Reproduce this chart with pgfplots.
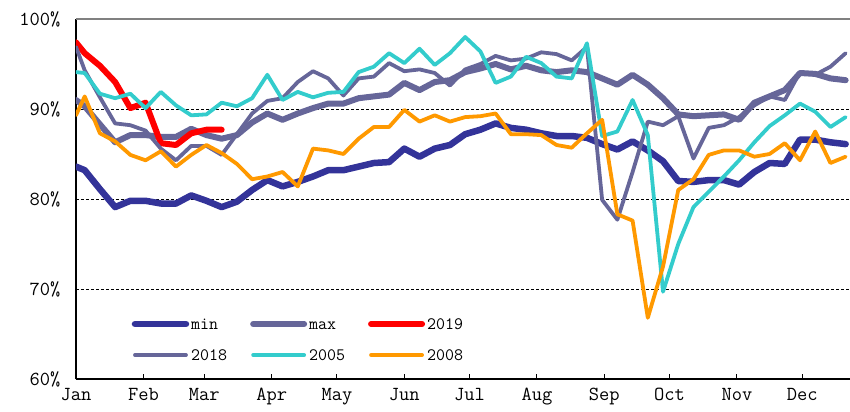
\documentclass[border=0pt]{standalone}
\usepackage{fontspec}
\usepackage{pgfplots}
\usepackage{pgfplotstable}
\pgfplotsset{compat=1.18}
\definecolor{cmin}{RGB}{51,51,153}
\definecolor{cmax}{RGB}{102,102,153}
\definecolor{cred}{RGB}{255,0,0}
\definecolor{ccyan}{RGB}{51,204,204}
\definecolor{corange}{RGB}{255,153,0}

\pgfplotstableread{
x vmin vmax y2018 y2005 y2008
0 83.6 91.0 96.9 94.1 89.3
4 83.2 90.3 94.3 94.0 91.4
11 81.1 88.3 91.3 91.7 87.3
18 79.1 86.3 88.4 91.2 86.4
25 79.8 87.1 88.2 91.7 84.9
32 79.8 87.1 87.6 90.1 84.3
39 79.5 86.9 85.6 91.9 85.3
46 79.5 86.9 84.3 90.4 83.6
53 80.4 87.8 85.9 89.3 84.9
60 79.8 87.1 85.9 89.4 86.0
67 79.1 86.7 84.9 90.7 85.1
74 79.7 87.1 87.2 90.3 83.9
81 81.0 88.5 89.5 91.2 82.2
88 82.1 89.5 90.9 93.8 82.5
95 81.4 88.8 91.2 91.0 83.0
102 81.9 89.5 93.0 91.9 81.4
109 82.5 90.1 94.2 91.3 85.6
116 83.2 90.6 93.4 91.8 85.4
123 83.2 90.6 91.5 91.9 85.0
130 83.6 91.2 93.4 94.1 86.7
137 84.0 91.4 93.6 94.7 88.0
144 84.1 91.6 95.1 96.2 88.0
151 85.6 92.9 94.2 95.1 89.9
158 84.7 92.1 94.4 96.7 88.6
165 85.6 93.0 94.0 94.9 89.3
172 86.0 93.2 92.6 96.2 88.6
179 87.2 94.1 94.4 98.0 89.1
186 87.7 94.5 95.0 96.4 89.2
193 88.4 95.0 95.9 92.9 89.5
200 87.9 94.4 95.4 93.6 87.2
207 87.7 94.8 95.6 95.8 87.2
214 87.3 94.3 96.3 95.1 87.1
221 87.0 94.1 96.1 93.6 86.0
228 87.0 94.3 95.4 93.4 85.7
235 86.8 94.1 96.9 97.3 87.3
242 86.1 93.4 79.9 87.0 88.8
249 85.5 92.7 77.7 87.5 78.3
256 86.4 93.8 83.0 91.0 77.6
263 85.4 92.7 88.6 87.1 66.8
270 84.2 91.2 88.2 69.7 72.5
277 82.0 89.4 89.2 75.0 81.0
284 81.9 89.2 84.5 79.1 82.2
291 82.1 89.3 87.9 80.8 84.9
298 82.1 89.4 88.2 82.5 85.4
305 81.6 88.8 89.1 84.3 85.4
312 83.0 90.7 90.4 86.3 84.7
319 84.0 91.4 91.4 88.1 85.0
326 83.9 92.1 91.0 89.3 86.2
333 86.6 94.0 94.1 90.6 84.3
340 86.6 93.9 93.8 89.7 87.5
347 86.3 93.4 94.7 88.0 84.0
354 86.1 93.2 96.2 89.1 84.7
}\datatab

\pgfplotstableread{
x y
0 97.4
4 96.2
11 94.8
18 93.0
25 90.1
32 90.7
39 86.2
46 86.0
53 87.3
60 87.7
67 87.7
}\datared

\begin{document}
\begin{tikzpicture}
\begin{axis}[
  name=ax,
  scale only axis, width=774bp, height=360bp,
  xmin=0, xmax=356, ymin=60, ymax=100,
  axis x line*=bottom, axis y line*=left,
  axis line style={black, line width=1.5bp},
  xtick={0,31,59,90,120,151,181,212,243,273,304,334},
  xticklabels={Jan,Feb,Mar,Apr,May,Jun,Jul,Aug,Sep,Oct,Nov,Dec},
  ytick={60,70,80,90,100},
  yticklabels={60\%,70\%,80\%,90\%,100\%},
  tick align=inside, major tick length=5bp,
  xtick style={black, line width=1bp},
  ytick style={draw=none},
  ymajorgrids, grid style={black, line width=0.8bp, dash pattern=on 3bp off 2bp},
  xticklabel style={font=\ttfamily\fontsize{20}{22}\selectfont, yshift=-6bp},
  yticklabel style={font=\ttfamily\fontsize{20}{22}\selectfont, xshift=-12bp},
  legend columns=3,
  legend cell align=left,
  legend style={
    at={(0.072,0.1715)}, anchor=north west,
    draw=none, fill=none, inner sep=0pt, outer sep=0pt,
    row sep=17.5bp,
    nodes={inner sep=0pt, outer sep=0pt, text height=12bp, text depth=1.5bp,
           font=\ttfamily\fontsize{17.5}{19}\selectfont},
    /tikz/every odd column/.append style={column sep=2bp},
    /tikz/every even column/.append style={column sep=23bp},
  },
  legend image code/.code={\draw[#1] (0bp,0bp) -- (51bp,0bp);},
  every axis plot/.append style={line join=round, line cap=round, mark=none},
]
\addplot[cmin, line width=6.5bp] table[x=x, y=vmin] {\datatab};
\addlegendentry{min}
\addplot[cmax, line width=6bp] table[x=x, y=vmax] {\datatab};
\addlegendentry{max}
\addplot[cred, line width=6bp] table[x=x, y=y] {\datared};
\addlegendentry{2019}
\addplot[cmax, line width=3.8bp] table[x=x, y=y2018] {\datatab};
\addlegendentry{2018}
\addplot[ccyan, line width=3.8bp] table[x=x, y=y2005] {\datatab};
\addlegendentry{2005}
\addplot[corange, line width=3.8bp] table[x=x, y=y2008] {\datatab};
\addlegendentry{2008}
\draw[gray, line width=2bp] (rel axis cs:0,1) -- (rel axis cs:1,1);
\end{axis}
\pgfresetboundingbox
\path[use as bounding box] ([shift={(-76bp,-33bp)}]ax.south west) rectangle ([shift={(0bp,19bp)}]ax.north east);
\end{tikzpicture}
\end{document}
